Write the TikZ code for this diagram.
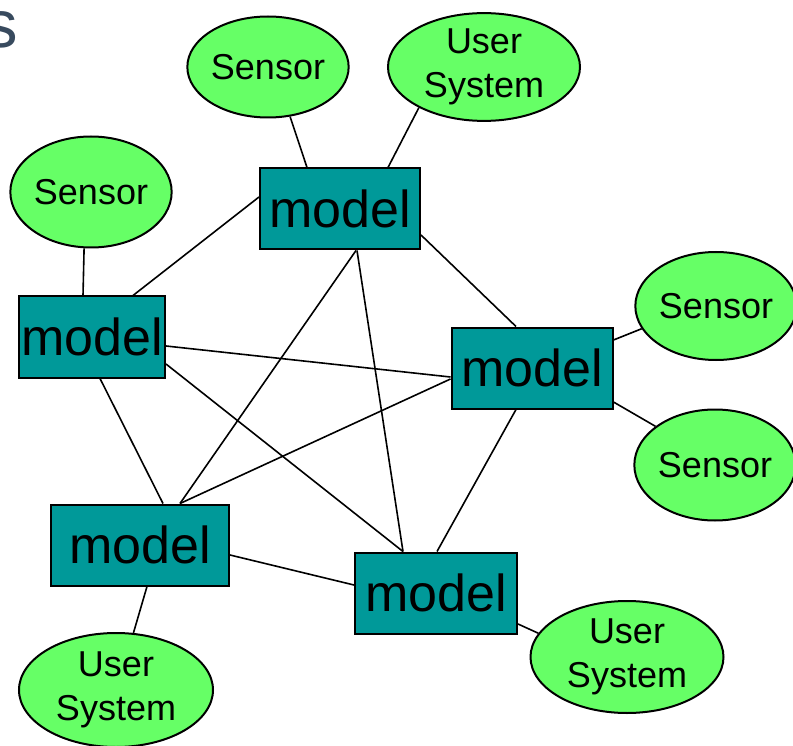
\documentclass[tikz,border=0pt]{standalone}
\usepackage{fontspec}
\setmainfont{Liberation Sans}
\usetikzlibrary{shapes.geometric}
\definecolor{modelteal}{RGB}{0,153,153}
\definecolor{extgreen}{RGB}{102,255,102}
\definecolor{titleslate}{RGB}{56,74,94}
\tikzset{
  model/.style={draw=black, line width=2pt, fill=modelteal, inner sep=0pt,
    minimum height=81pt, font=\fontsize{52}{62}\selectfont},
  extern/.style={ellipse, draw=black, line width=2pt, fill=extgreen, inner sep=0pt,
    align=center, font=\fontsize{36}{44}\selectfont},
  link/.style={line width=1.6pt},
}
\begin{document}
\begin{tikzpicture}[x=1pt, y=-1pt]
  \useasboundingbox (0,0) rectangle (793,746);
  % Title remnant
  \node[anchor=base east, inner sep=0pt, text=titleslate,
    font=\fontsize{67}{80}\selectfont] (title) at (18,48) {s};

  % Models
  \node[model, minimum width=160pt] (M1) at (340,209) {model};
  \node[model, minimum width=146pt] (M2) at (92,337) {model};
  \node[model, minimum width=161pt] (M3) at (532,368) {model};
  \node[model, minimum width=178pt] (M4) at (140,545) {model};
  \node[model, minimum width=162pt] (M5) at (436,593) {model};

  % Sensors and user systems
  \node[extern, minimum width=147pt, minimum height=101pt] (S1) at (268,67) {Sensor};
  \node[extern, minimum width=192pt, minimum height=106pt] (U1) at (484,67) {User\\System};
  \node[extern, minimum width=144pt, minimum height=111pt] (S2) at (91,192) {Sensor};
  \node[extern, minimum width=144pt, minimum height=108pt] (S3) at (716,306) {Sensor};
  \node[extern, minimum width=144pt, minimum height=111pt] (S4) at (715,465) {Sensor};
  \node[extern, minimum width=194pt, minimum height=114pt] (U2) at (116,690) {User\\System};
  \node[extern, minimum width=193pt, minimum height=112pt] (U3) at (627,657) {User\\System};

  % Model to model
  \draw[link] ([xshift=41pt]M2.north) -- ([yshift=12pt]M1.west);
  \draw[link] ([yshift=-26pt]M1.east) -- ([xshift=-16pt]M3.north);
  \draw[link] ([yshift=-9pt]M2.east) -- ([yshift=-9pt]M3.west);
  \draw[link] ([yshift=-27pt]M2.east) -- ([xshift=-33pt]M5.north);
  \draw[link] ([xshift=8pt]M2.south) -- ([xshift=23pt]M4.north);
  \draw[link] ([xshift=16pt]M1.south) -- ([xshift=40pt]M4.north);
  \draw[link] ([xshift=17pt]M1.south) -- ([xshift=-33pt]M5.north);
  \draw[link] ([yshift=-11pt]M3.west) -- ([xshift=40pt]M4.north);
  \draw[link] ([xshift=-16pt]M3.south) -- ([xshift=1pt]M5.north);
  \draw[link] ([yshift=-10pt]M4.east) -- ([yshift=8pt]M5.west);

  % Models to the outside
  \draw[link] (S1.-66) -- ([xshift=-33pt]M1.north);
  \draw[link] (U1.-148) -- ([xshift=48pt]M1.north);
  \draw[link] (S2.-97) -- ([xshift=-9pt]M2.north);
  \draw[link] ([yshift=28pt]M3.east) -- (S3.-163);
  \draw[link] ([yshift=-34pt]M3.east) -- (S4.147);
  \draw[link] ([xshift=7pt]M4.south) -- (U2.73);
  \draw[link] ([yshift=-31pt]M5.east) -- (U3.165);
\end{tikzpicture}
\end{document}
